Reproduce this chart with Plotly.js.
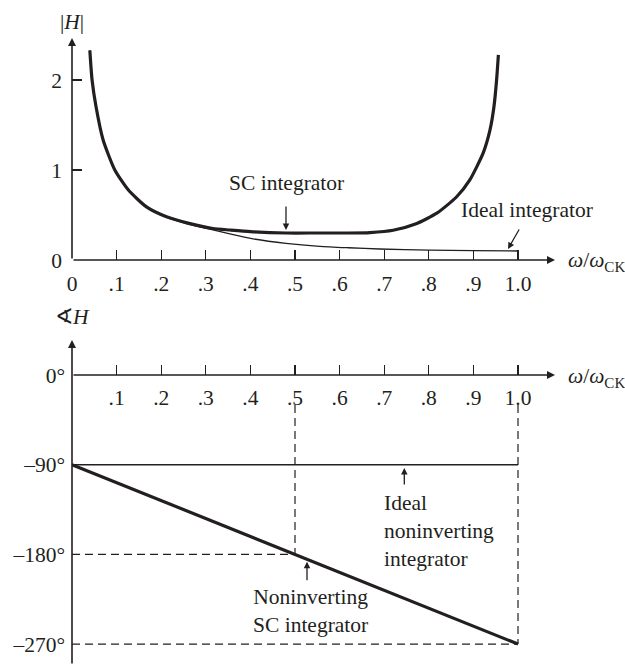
<!DOCTYPE html>
<html>
<head>
<meta charset="utf-8">
<script src="https://cdn.plot.ly/plotly-3.0.1.min.js"></script>
<style>html,body{margin:0;padding:0;background:#fff;}</style>
</head>
<body>
<div id="chart" style="width:625px;height:665px;"></div>
<script>
// ---- data ----
var freqTicks = [0.1,0.2,0.3,0.4,0.5,0.6,0.7,0.8,0.9,1.0];
var freqTickLabels = ['.1','.2','.3','.4','.5','.6','.7','.8','.9','1.0'];
var magTicks = [0,1,2];
var magTickLabels = ['0','1','2'];
var phaseTicks = [0,-90,-180,-270];
var phaseTickLabels = ['0°','–90°','–180°','–270°'];

var scMagX = [0.040,0.045,0.054,0.070,0.096,0.126,0.167,0.212,0.26,0.316,0.354,0.40,0.48,0.55,0.62,0.668,0.72,0.77,0.818,0.862,0.892,0.922,0.937,0.946,0.952,0.956];
var scMagY = [2.33,2.0,1.70,1.33,1.0,0.78,0.59,0.48,0.41,0.35,0.333,0.315,0.30,0.30,0.30,0.305,0.33,0.40,0.52,0.70,0.89,1.19,1.44,1.70,2.0,2.28];

var idealMagX = [0.040,0.045,0.054,0.070,0.096,0.126,0.167,0.212,0.26,0.316,0.354,0.406,0.48,0.556,0.62,0.69,0.8,0.9,1.0];
var idealMagY = [2.33,2.0,1.70,1.33,1.0,0.78,0.59,0.475,0.40,0.335,0.29,0.235,0.185,0.152,0.136,0.122,0.11,0.104,0.10];

var phaseX = [0, 1.0];
var idealPhase = [-90, -90];
var scPhase = [-90, -270];

var guideV1X = [0.5, 0.5],  guideV1Y = [-30, -180];
var guideV2X = [1.0, 1.0],  guideV2Y = [-30, -270];
var guideH1X = [0, 0.5],    guideH1Y = [-180, -180];
var guideH2X = [0, 1.0],    guideH2Y = [-270, -270];

// ---- drawing ----
var ink = '#231f20';
var FONT = 'Liberation Serif, Times New Roman, serif';
var FS = 21.5;
var W = 625, H = 665;
function px(x){ return x / W; }
function py(y){ return 1 - y / H; }

var traces = [
  {x: idealMagX, y: idealMagY, xaxis:'x', yaxis:'y', mode:'lines', line:{color:ink, width:1.3, shape:'spline', smoothing:0.6}},
  {x: scMagX, y: scMagY, xaxis:'x', yaxis:'y', mode:'lines', line:{color:ink, width:3.2, shape:'spline', smoothing:0.6}},
  {x: guideV1X, y: guideV1Y, xaxis:'x2', yaxis:'y2', mode:'lines', line:{color:ink, width:1.2, dash:'8px,5px'}},
  {x: guideV2X, y: guideV2Y, xaxis:'x2', yaxis:'y2', mode:'lines', line:{color:ink, width:1.2, dash:'8px,5px'}},
  {x: guideH1X, y: guideH1Y, xaxis:'x2', yaxis:'y2', mode:'lines', line:{color:ink, width:1.2, dash:'8px,5px'}},
  {x: guideH2X, y: guideH2Y, xaxis:'x2', yaxis:'y2', mode:'lines', line:{color:ink, width:1.2, dash:'8px,5px'}},
  {x: phaseX, y: idealPhase, xaxis:'x2', yaxis:'y2', mode:'lines', line:{color:ink, width:1.4}},
  {x: phaseX, y: scPhase, xaxis:'x2', yaxis:'y2', mode:'lines', line:{color:ink, width:3.2}}
];

var xMax = (555-72)/446;
var xDom = [px(72), px(555)];
var tickFont = {family: FONT, size: FS, color: ink};
var lblFont = {family: FONT, size: FS, color: ink};

var layout = {
  width: W, height: H,
  margin: {l:0, r:0, t:0, b:0},
  paper_bgcolor: '#fff', plot_bgcolor: 'rgba(0,0,0,0)',
  showlegend: false,
  font: {family: FONT, size: FS, color: ink},
  xaxis: {domain: xDom, range: [0, xMax], anchor:'y', showgrid:false, zeroline:false, showline:false,
          tickmode:'array', tickvals: [0].concat(freqTicks), ticktext: ['0'].concat(freqTickLabels),
          ticks:'inside', ticklen:10, tickwidth:1.3, tickcolor:ink, tickfont: tickFont, ticklabelstandoff: 8},
  yaxis: {domain: [py(260), py(38)], range: [0, (260-38)/90], anchor:'x', showgrid:false, zeroline:false, showline:false,
          tickmode:'array', tickvals: magTicks, ticktext: magTickLabels,
          ticks:'inside', ticklen:10, tickwidth:1.3, tickcolor:ink, tickfont: tickFont, ticklabelstandoff: 9},
  xaxis2: {domain: xDom, range: [0, xMax], anchor:'free', position: py(375), showgrid:false, zeroline:false, showline:false,
          tickmode:'array', tickvals: freqTicks, ticktext: freqTickLabels,
          ticks:'inside', ticklen:10, tickwidth:1.3, tickcolor:ink, tickfont: tickFont, ticklabelstandoff: 7},
  yaxis2: {domain: [0, py(340)], range: [-(665-375)/89.7*90, (375-340)/89.7*90], anchor:'x2', showgrid:false, zeroline:false, showline:false,
          tickmode:'array', tickvals: phaseTicks, ticktext: phaseTickLabels,
          ticks:'', tickfont: tickFont, ticklabelstandoff: 6},
  annotations: [
    // axis lines with arrowheads
    {xref:'x', yref:'y', axref:'x', ayref:'y', x: xMax, y: 0, ax: 0, ay: 0, text:'', showarrow:true, arrowhead:2, arrowsize:1, arrowwidth:1.6, arrowcolor:ink},
    {xref:'x', yref:'y', axref:'x', ayref:'y', x: 0, y: (260-38)/90, ax: 0, ay: 0, text:'', showarrow:true, arrowhead:2, arrowsize:1, arrowwidth:1.6, arrowcolor:ink},
    {xref:'x2', yref:'y2', axref:'x2', ayref:'y2', x: xMax, y: 0, ax: 0, ay: 0, text:'', showarrow:true, arrowhead:2, arrowsize:1, arrowwidth:1.6, arrowcolor:ink},
    {xref:'x2', yref:'y2', axref:'x2', ayref:'y2', x: 0, y: (375-340)/89.7*90, ax: 0, ay: -(665-375)/89.7*90, text:'', showarrow:true, arrowhead:2, arrowsize:1, arrowwidth:1.6, arrowcolor:ink},
    // axis titles
    {xref:'paper', yref:'paper', x: px(72), y: py(22), text:'|<i>H</i>|', showarrow:false, xanchor:'center', yanchor:'middle', font:lblFont},
    {xref:'paper', yref:'paper', x: px(72), y: py(317), text:'∢<i>H</i>', showarrow:false, xanchor:'center', yanchor:'middle', font:lblFont},
    {xref:'paper', yref:'paper', x: px(566), y: py(262), text:'<i>ω</i>/<i>ω</i><sub>CK</sub>', showarrow:false, xanchor:'left', yanchor:'middle', font:lblFont},
    {xref:'paper', yref:'paper', x: px(566), y: py(377), text:'<i>ω</i>/<i>ω</i><sub>CK</sub>', showarrow:false, xanchor:'left', yanchor:'middle', font:lblFont},
    // top labels
    {xref:'paper', yref:'paper', x: px(286), y: py(183), text:'SC integrator', showarrow:false, xanchor:'center', yanchor:'middle', font:lblFont},
    {xref:'x', yref:'y', x: (286-72)/446, y: (260-230)/90, ax: 0, ay: -25, text:'', showarrow:true, arrowhead:2, arrowsize:1, arrowwidth:1.3, arrowcolor:ink},
    {xref:'paper', yref:'paper', x: px(527), y: py(210), text:'Ideal integrator', showarrow:false, xanchor:'center', yanchor:'middle', font:lblFont},
    {xref:'x', yref:'y', x: (508-72)/446, y: (260-249)/90, ax: 12, ay: -21, text:'', showarrow:true, arrowhead:2, arrowsize:1, arrowwidth:1.3, arrowcolor:ink},
    // bottom labels
    {xref:'paper', yref:'paper', x: px(382), y: py(531), text:'Ideal<br>noninverting<br>integrator', showarrow:false, xanchor:'left', yanchor:'middle', align:'left', font:lblFont},
    {xref:'x2', yref:'y2', x: (404.3-72)/446, y: (375-468)/89.7*90, ax: 0, ay: 18, text:'', showarrow:true, arrowhead:2, arrowsize:1, arrowwidth:1.3, arrowcolor:ink},
    {xref:'paper', yref:'paper', x: px(310), y: py(611), text:'Noninverting<br>SC integrator', showarrow:false, xanchor:'center', yanchor:'middle', align:'center', font:lblFont},
    {xref:'x2', yref:'y2', x: (307-72)/446, y: (375-561.7)/89.7*90, ax: 0, ay: 20, text:'', showarrow:true, arrowhead:2, arrowsize:1, arrowwidth:1.3, arrowcolor:ink}
  ]
};

Plotly.newPlot('chart', traces, layout, {displayModeBar:false, staticPlot:true});
</script>
</body>
</html>
